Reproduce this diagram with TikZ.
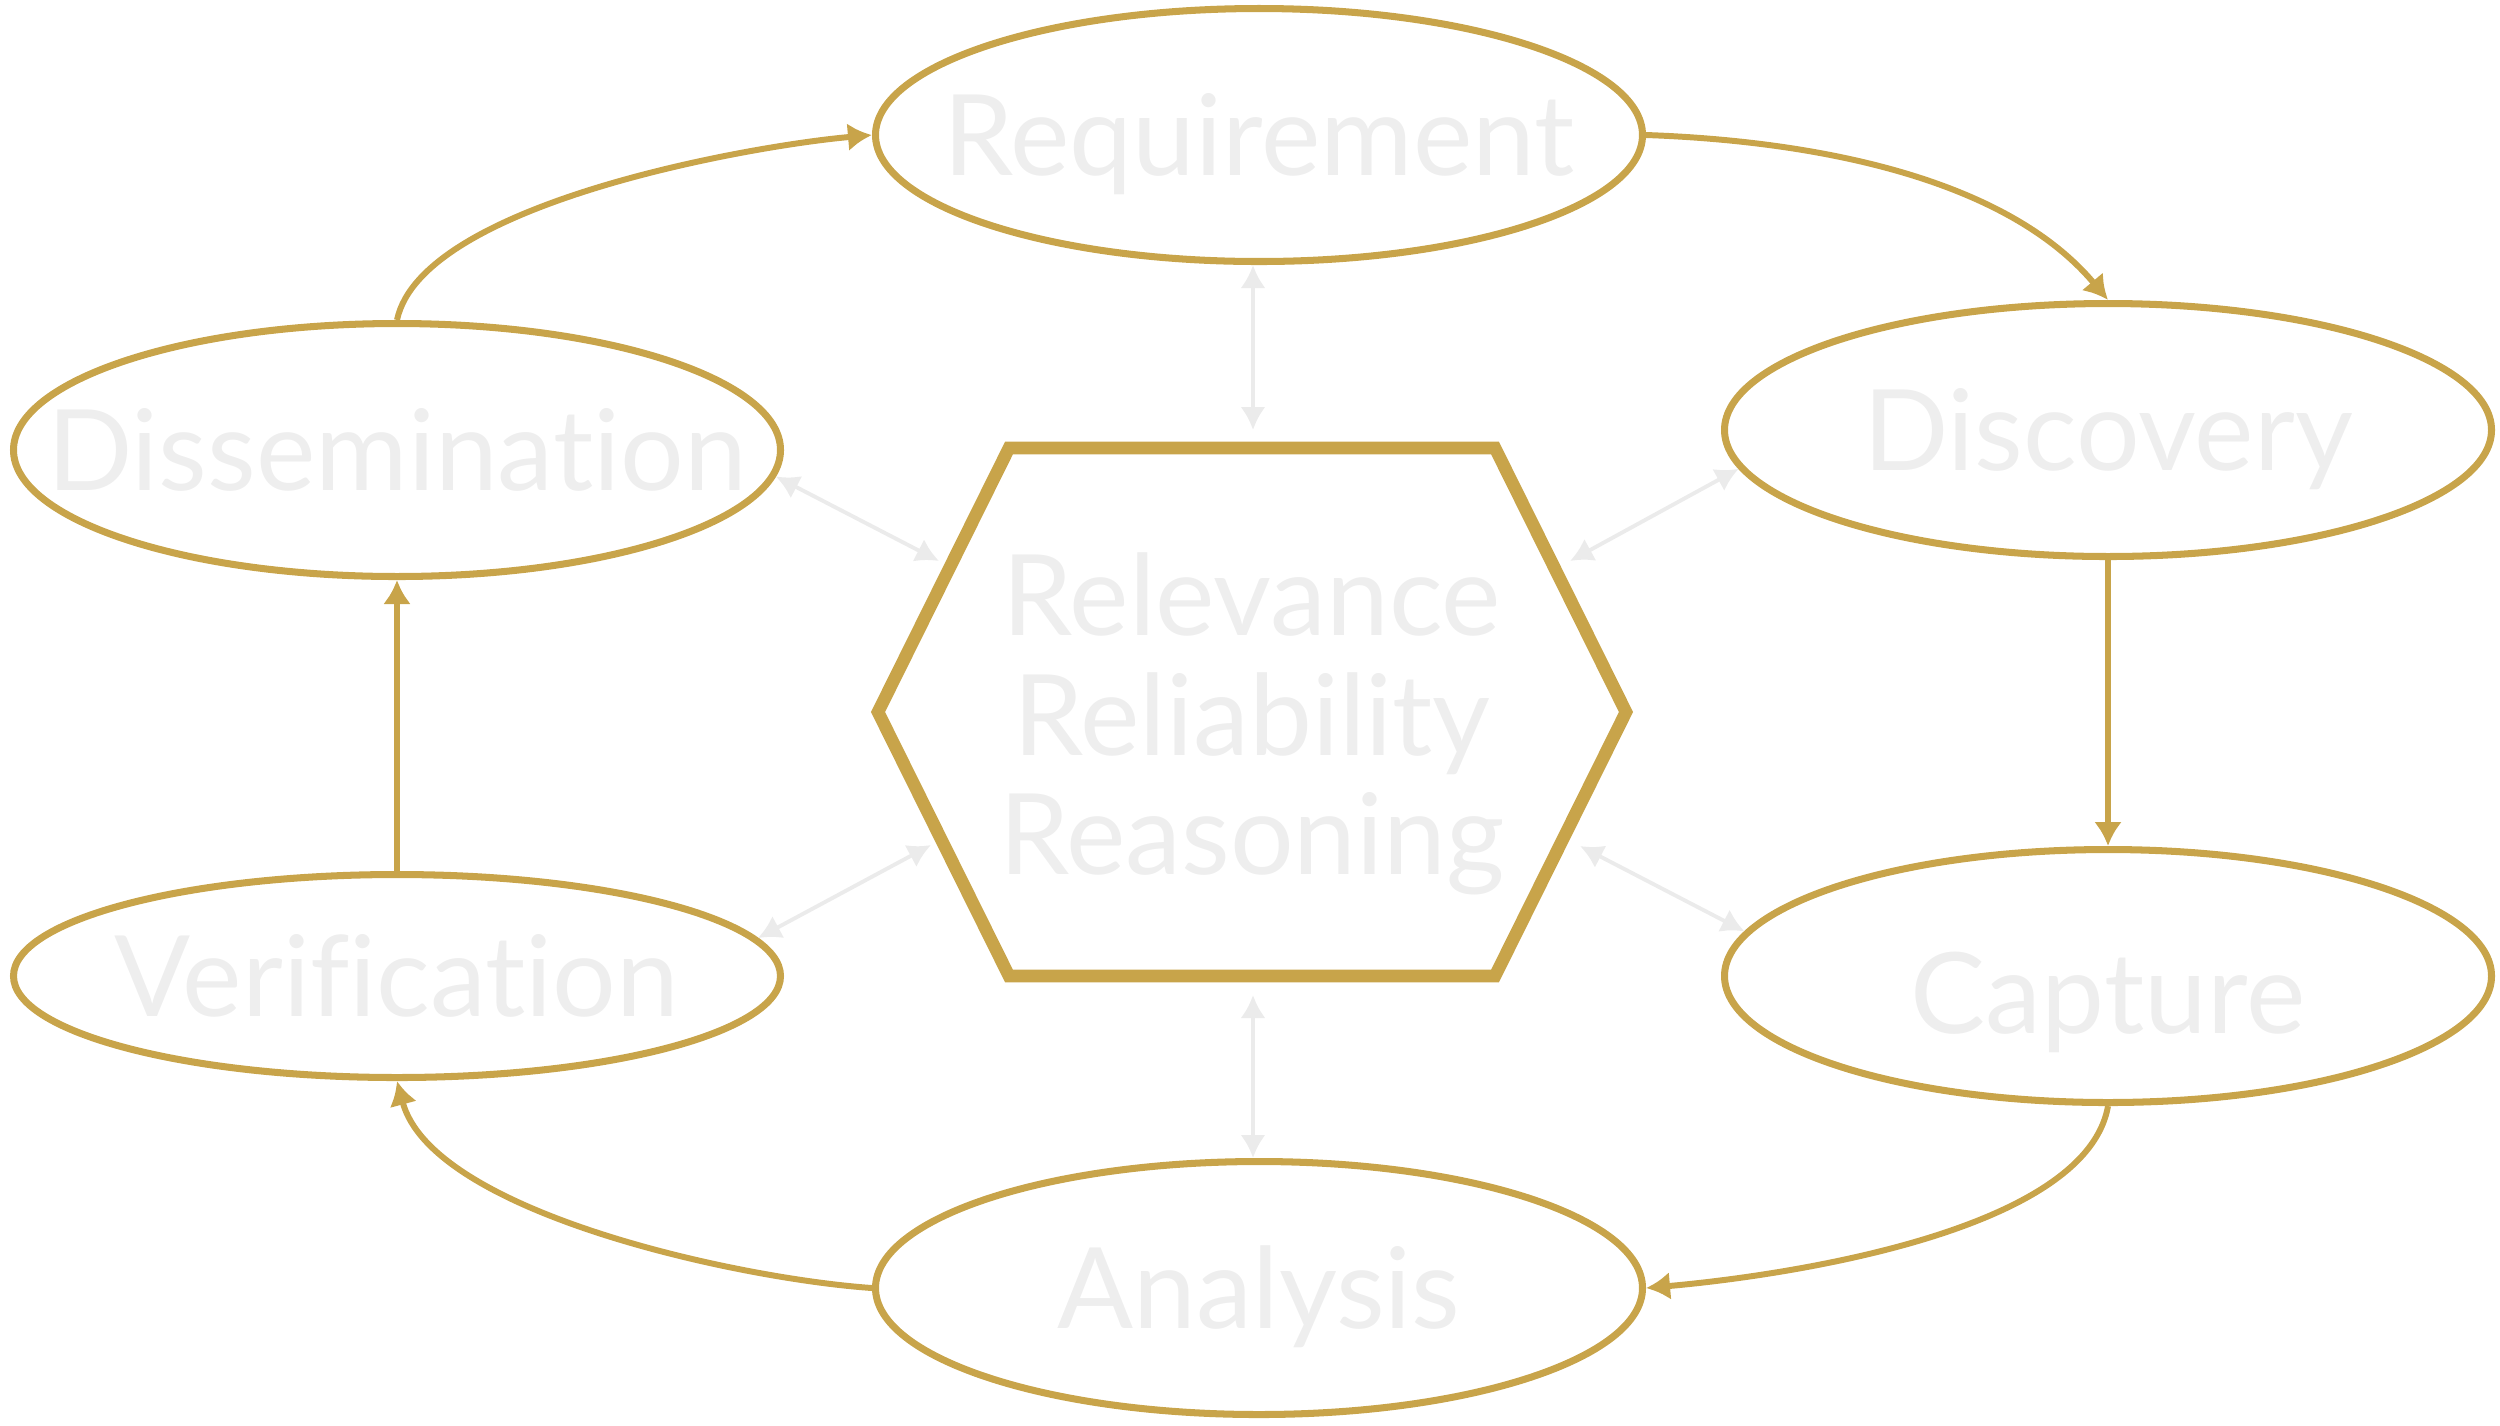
\documentclass[tikz,border=0pt]{standalone}
\usepackage{fontspec}
\setmainfont{Lato}[Ligatures=NoCommon]
\usepackage{xcolor}
\usepackage{tikz}
\usetikzlibrary{arrows.meta,calc,positioning,shapes.geometric}

\definecolor{gold}{HTML}{C8A44A}
\definecolor{paleline}{HTML}{EBEBEB}
\definecolor{paletext}{HTML}{EEEEEE}

\begin{document}
\begin{tikzpicture}[
    x=1.0cm,
    y=-1.0cm,
    stage/.style={
        ellipse,
        draw=gold,
        line width=2pt,
        minimum width=7.67cm,
        minimum height=2.53cm,
        inner sep=0pt
    },
    caption/.style={
        text=paletext,
        font=\fontsize{32}{34}\selectfont,
        inner sep=0pt,
        text height=0.81cm,
        text depth=0pt
    },
    cycleline/.style={
        draw=gold,
        line width=1.7pt,
        -{Latex[length=2.4mm,width=2.8mm]}
    },
    linkline/.style={
        draw=paleline,
        line width=1.1pt,
        {Latex[length=2.3mm,width=2.5mm]}-{Latex[length=2.3mm,width=2.5mm]}
    }
]

\useasboundingbox (0,0) rectangle (25,14.25);

\node[stage] (req) at (12.59,1.35) {};
\node[stage] (disc) at (21.08,4.30) {};
\node[stage] (capt) at (21.08,9.76) {};
\node[stage] (anal) at (12.59,12.88) {};
\node[stage,minimum height=2.03cm] (verif) at (3.97,9.76) {};
\node[stage] (diss) at (3.97,4.50) {};

\node[caption] (reqtxt) at (req) {Requirement};
\node[caption] (disctxt) at (disc) {Discovery};
\node[caption] (capttxt) at ($(capt)+(0,0.17)$) {Capture};
\node[caption] (analtxt) at (anal) {Analysis};
\node[caption] (veriftxt) at (verif) {Verification};
\node[caption] (disstxt) at (diss) {Dissemination};

\coordinate (core) at (12.52,7.12);
\node[text=paletext,font=\fontsize{32}{34}\selectfont,align=center,inner sep=0pt] (hub)
at ($(core)+(0,0.12)$) {Relevance\\Reliability\\Reasoning};

\draw[gold,line width=3.6pt,line join=miter]
    ($(core)+(-3.74,0)$) -- ($(core)+(-2.43,-2.64)$) -- ($(core)+(2.43,-2.64)$)
 -- ($(core)+(3.74,0)$) -- ($(core)+(2.43,2.64)$) -- ($(core)+(-2.43,2.64)$) -- cycle;

\coordinate (hubN) at ($(core)+(0.01,-2.82)$);
\coordinate (hubS) at ($(core)+(0.01,2.83)$);
\coordinate (hubNW) at ($(core)+(-3.13,-1.51)$);
\coordinate (hubNE) at ($(core)+(3.18,-1.51)$);
\coordinate (hubSW) at ($(core)+(-3.21,1.33)$);
\coordinate (hubSE) at ($(core)+(3.28,1.34)$);

\draw[linkline] (req.south -| hubN) -- (hubN);
\draw[linkline] (anal.north -| hubS) -- (hubS);
\draw[linkline] (diss.-4) -- (hubNW);
\draw[linkline] (disc.186.5) -- (hubNE);
\draw[linkline] (verif.6.5) -- (hubSW);
\draw[linkline] (capt.173) -- (hubSE);

\draw[cycleline] (diss.north) to[out=78,in=185,looseness=0.6] (req.west);
\draw[cycleline] (req.east) to[out=-2,in=130,looseness=0.85] (disc.north);
\draw[cycleline] (disc.south) -- (capt.north);
\draw[cycleline] (capt.south) to[out=-100,in=5,looseness=0.67] (anal.east);
\draw[cycleline] (anal.west) to[out=176,in=-75,looseness=0.67] (verif.south);
\draw[cycleline] (verif.north) -- (diss.south);

\end{tikzpicture}
\end{document}
